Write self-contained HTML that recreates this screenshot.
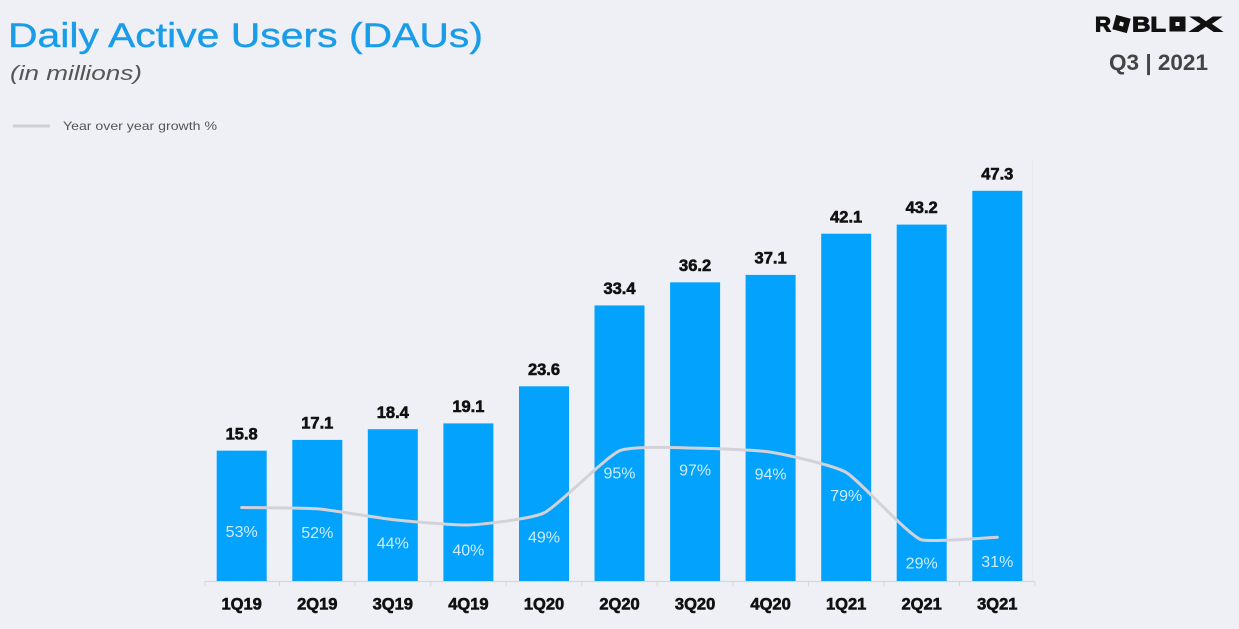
<!DOCTYPE html>
<html>
<head>
<meta charset="utf-8">
<style>
  html,body{margin:0;padding:0;background:#eff0f5;}
  body{width:1239px;height:629px;overflow:hidden;}
  svg{display:block;}
</style>
</head>
<body>
<svg width="1239" height="629" viewBox="0 0 1239 629" xmlns="http://www.w3.org/2000/svg">
  <rect x="0" y="0" width="1239" height="629" fill="#eff0f5"/>

  <!-- Title -->
  <text x="8" y="47" font-family="Liberation Sans, sans-serif" font-size="34" fill="#1a9de8" stroke="#1a9de8" stroke-width="0.4" textLength="475" lengthAdjust="spacingAndGlyphs">Daily Active Users (DAUs)</text>
  <text x="10" y="80" font-family="Liberation Sans, sans-serif" font-size="20" font-style="italic" fill="#555" textLength="132" lengthAdjust="spacingAndGlyphs">(in millions)</text>

  <!-- Legend -->
  <line x1="13" y1="126" x2="50" y2="126" stroke="#cfcfd4" stroke-width="3"/>
  <text x="63" y="130" font-family="Liberation Sans, sans-serif" font-size="12" fill="#555" textLength="154" lengthAdjust="spacingAndGlyphs">Year over year growth %</text>

  <!-- Roblox logo -->
  <g font-family="Liberation Sans, sans-serif" font-weight="bold" font-size="21" fill="#111" stroke="#111" stroke-width="1">
    <text x="1095" y="31.5" textLength="16" lengthAdjust="spacingAndGlyphs">R</text>
    <text x="1132" y="31.5" textLength="34" lengthAdjust="spacingAndGlyphs">BL</text>
    <text x="1190" y="31.5" textLength="32" lengthAdjust="spacingAndGlyphs">X</text>
  </g>
  <g transform="translate(1121.5,24) rotate(15)">
    <rect x="-7.5" y="-7.5" width="15" height="15" fill="#111"/>
    <rect x="-2" y="-2" width="4" height="4" fill="#eff0f5"/>
  </g>
  <g transform="translate(1177.5,24)">
    <rect x="-8" y="-7.5" width="16" height="15" fill="#111"/>
    <rect x="-2" y="-2" width="4" height="4" fill="#eff0f5"/>
  </g>
  <text x="1109" y="70" font-family="Liberation Sans, sans-serif" font-weight="bold" font-size="22" fill="#444" textLength="99" lengthAdjust="spacingAndGlyphs">Q3 | 2021</text>

  <!-- faint right axis -->
  <line x1="1032.5" y1="160" x2="1032.5" y2="581" stroke="#e9eaf0" stroke-width="1"/>

  <!-- Axis line and ticks -->
  <line x1="205" y1="581.5" x2="1035" y2="581.5" stroke="#d6d7dd" stroke-width="1.2"/>
  <g stroke="#d6d7dd" stroke-width="1">
    <line x1="205" y1="581" x2="205" y2="586"/>
    <line x1="279.5" y1="581" x2="279.5" y2="586"/>
    <line x1="355" y1="581" x2="355" y2="586"/>
    <line x1="430.6" y1="581" x2="430.6" y2="586"/>
    <line x1="506.2" y1="581" x2="506.2" y2="586"/>
    <line x1="581.7" y1="581" x2="581.7" y2="586"/>
    <line x1="657.3" y1="581" x2="657.3" y2="586"/>
    <line x1="732.8" y1="581" x2="732.8" y2="586"/>
    <line x1="808.4" y1="581" x2="808.4" y2="586"/>
    <line x1="884" y1="581" x2="884" y2="586"/>
    <line x1="959.5" y1="581" x2="959.5" y2="586"/>
    <line x1="1035" y1="581" x2="1035" y2="586"/>
  </g>

  <!-- Bars -->
  <g fill="#03a2fd">
    <rect x="216.7" y="450.65" width="50" height="130.35"/>
    <rect x="292.3" y="439.9" width="50" height="141.1"/>
    <rect x="367.8" y="429.2" width="50" height="151.8"/>
    <rect x="443.4" y="423.4" width="50" height="157.6"/>
    <rect x="519.0" y="386.3" width="50" height="194.7"/>
    <rect x="594.5" y="305.45" width="50" height="275.55"/>
    <rect x="670.1" y="282.35" width="50" height="298.65"/>
    <rect x="745.6" y="274.9" width="50" height="306.1"/>
    <rect x="821.2" y="233.7" width="50" height="347.3"/>
    <rect x="896.7" y="224.6" width="50" height="356.4"/>
    <rect x="972.3" y="190.8" width="50" height="390.2"/>
  </g>

  <!-- Value labels -->
  <g font-family="Liberation Sans, sans-serif" font-weight="bold" font-size="16.5" fill="#111" stroke="#111" stroke-width="0.6" text-anchor="middle">
    <text x="241.7" y="439.3">15.8</text>
    <text x="317.3" y="428.5">17.1</text>
    <text x="392.8" y="417.8">18.4</text>
    <text x="468.4" y="412">19.1</text>
    <text x="544.0" y="374.9">23.6</text>
    <text x="619.5" y="294">33.4</text>
    <text x="695.1" y="271">36.2</text>
    <text x="770.6" y="263.5">37.1</text>
    <text x="846.2" y="222.3">42.1</text>
    <text x="921.7" y="213.2">43.2</text>
    <text x="997.3" y="179.4">47.3</text>
  </g>

  <!-- Growth line -->
  <path d="M241.7,507.5 C248.0,507.6 304.7,507.8 317.3,508.8 C329.9,509.8 380.2,518.3 392.8,519.6 C405.4,521.0 455.8,525.6 468.4,525.0 C481.0,524.4 531.4,519.1 544.0,512.9 C556.6,506.7 606.9,456.2 619.5,450.8 C632.1,445.4 682.5,448.0 695.1,448.1 C707.7,448.2 758.0,450.1 770.6,452.1 C783.2,454.1 833.6,465.1 846.2,472.4 C858.8,479.7 909.1,536.5 921.7,539.9 C934.3,542.3 991.0,537.4 997.3,537.2" fill="none" stroke="#d2d2d8" stroke-width="3" stroke-linejoin="round" stroke-linecap="round"/>

  <!-- Percent labels -->
  <g font-family="Liberation Sans, sans-serif" font-size="16" fill="#ffffff" fill-opacity="0.8" text-anchor="middle">
    <text x="241.7" y="537.2">53%</text>
    <text x="317.3" y="538.2">52%</text>
    <text x="392.8" y="548.5">44%</text>
    <text x="468.4" y="555.5">40%</text>
    <text x="544.0" y="542.5">49%</text>
    <text x="619.5" y="478.5">95%</text>
    <text x="695.1" y="475.5">97%</text>
    <text x="770.6" y="479.5">94%</text>
    <text x="846.2" y="501.2">79%</text>
    <text x="921.7" y="568.5">29%</text>
    <text x="997.3" y="567.2">31%</text>
  </g>

  <!-- Category labels -->
  <g font-family="Liberation Sans, sans-serif" font-weight="bold" font-size="16.5" fill="#111" stroke="#111" stroke-width="0.6" text-anchor="middle">
    <text x="241.7" y="609.3">1Q19</text>
    <text x="317.3" y="609.3">2Q19</text>
    <text x="392.8" y="609.3">3Q19</text>
    <text x="468.4" y="609.3">4Q19</text>
    <text x="544.0" y="609.3">1Q20</text>
    <text x="619.5" y="609.3">2Q20</text>
    <text x="695.1" y="609.3">3Q20</text>
    <text x="770.6" y="609.3">4Q20</text>
    <text x="846.2" y="609.3">1Q21</text>
    <text x="921.7" y="609.3">2Q21</text>
    <text x="997.3" y="609.3">3Q21</text>
  </g>
</svg>
</body>
</html>
